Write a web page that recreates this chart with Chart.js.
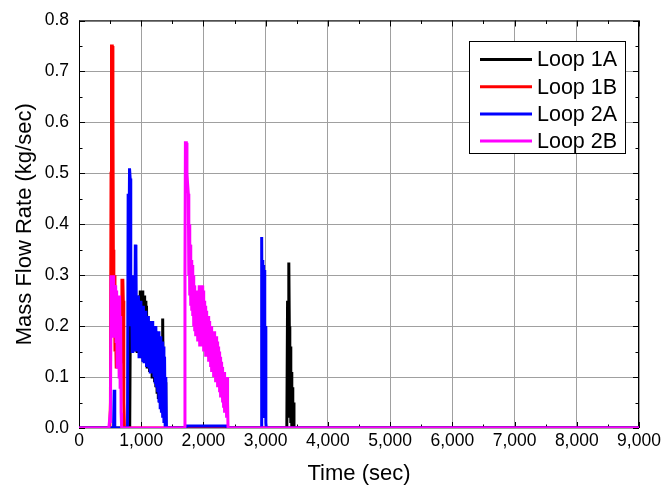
<!DOCTYPE html>
<html>
<head>
<meta charset="utf-8">
<script src="https://cdn.jsdelivr.net/npm/chart.js@4"></script>
<style>
  body { margin: 0; background: #fff; }
</style>
</head>
<body>
<canvas id="flowChart" width="665" height="491"></canvas>
<script>
// series: [time (sec), mass flow rate (kg/sec)]
const seriesNames = ["Loop 1A", "Loop 1B", "Loop 2A", "Loop 2B"];

const loop1A = [
    [0, 0], [815, 0], [825, 0.22], [835, 0.17], [845, 0.25], [855, 0.16], [865, 0.23], [875, 0.17],
    [885, 0.24], [895, 0.16], [905, 0.23], [915, 0.15], [925, 0.24], [935, 0.15], [945, 0.25],
    [955, 0.15], [965, 0.26], [975, 0.14], [985, 0.27], [995, 0.14], [1005, 0.26], [1015, 0.14],
    [1025, 0.27], [1035, 0.13], [1045, 0.26], [1055, 0.13], [1065, 0.25], [1075, 0.13], [1085, 0.24],
    [1095, 0.12], [1105, 0.22], [1115, 0.12], [1125, 0.21], [1135, 0.11], [1145, 0.21], [1155, 0.11],
    [1165, 0.2], [1175, 0.1], [1185, 0.2], [1195, 0.1], [1205, 0.19], [1215, 0.09], [1225, 0.19],
    [1235, 0.08], [1245, 0.18], [1255, 0.07], [1265, 0.18], [1275, 0.06], [1285, 0.17], [1295, 0.05],
    [1305, 0.16], [1315, 0.04], [1325, 0.16], [1335, 0.04], [1345, 0.215], [1355, 0.03], [1365, 0.14],
    [1375, 0.01], [1385, 0.09], [1395, 0], [3340, 0], [3352, 0.25], [3362, 0.2], [3372, 0.325],
    [3380, 0.2], [3388, 0.02], [3396, 0.16], [3404, 0.01], [3412, 0.11], [3420, 0], [3428, 0.08],
    [3436, 0], [3444, 0.05], [3455, 0], [9000, 0]
];

const loop1B = [
    [0, 0], [495, 0], [505, 0.05], [515, 0.5], [522, 0.75], [535, 0.75], [545, 0.63], [552, 0.35],
    [560, 0.29], [570, 0.3], [578, 0.15], [588, 0.19], [598, 0.12], [608, 0.17], [618, 0.14],
    [628, 0.17], [638, 0.13], [648, 0.16], [658, 0.13], [668, 0.15], [678, 0.13], [690, 0.29],
    [705, 0.29], [712, 0.25], [720, 0.05], [730, 0], [9000, 0]
];

const loop2A = [
    [0, 0], [555, 0], [565, 0.075], [575, 0], [780, 0], [790, 0.46], [800, 0.3], [812, 0.51],
    [822, 0.49], [832, 0.2], [845, 0.28], [855, 0.15], [865, 0.3], [875, 0.16], [885, 0.27],
    [895, 0.15], [905, 0.36], [915, 0.34], [925, 0.15], [935, 0.26], [945, 0.15], [955, 0.26],
    [965, 0.14], [975, 0.25], [985, 0.15], [995, 0.25], [1005, 0.14], [1015, 0.24], [1025, 0.13],
    [1035, 0.24], [1045, 0.13], [1055, 0.23], [1065, 0.13], [1075, 0.23], [1085, 0.12], [1095, 0.22],
    [1105, 0.12], [1115, 0.22], [1125, 0.12], [1135, 0.21], [1145, 0.11], [1155, 0.21], [1165, 0.11],
    [1175, 0.21], [1185, 0.11], [1195, 0.2], [1205, 0.1], [1215, 0.2], [1225, 0.09], [1235, 0.2],
    [1245, 0.08], [1255, 0.19], [1265, 0.07], [1275, 0.19], [1285, 0.05], [1295, 0.18], [1305, 0.04],
    [1315, 0.18], [1325, 0.03], [1335, 0.17], [1345, 0.02], [1355, 0.16], [1365, 0.01], [1375, 0.14],
    [1385, 0], [1395, 0.1], [1405, 0], [1715, 0], [1725, 0.004], [2370, 0.004], [2380, 0],
    [2925, 0], [2932, 0.3], [2940, 0.375], [2947, 0.05], [2954, 0.33], [2961, 0.04], [2968, 0.32],
    [2975, 0.03], [2982, 0.31], [2989, 0.02], [2996, 0.2], [3003, 0.01], [3010, 0], [9000, 0]
];

const loop2B = [
    [0, 0], [480, 0], [495, 0.02], [505, 0.01], [515, 0.3], [525, 0.3], [533, 0.18], [541, 0.29],
    [549, 0.19], [557, 0.3], [565, 0.18], [573, 0.28], [581, 0.2], [589, 0.28], [597, 0.17],
    [605, 0.27], [613, 0.12], [621, 0.26], [629, 0.18], [637, 0.25], [645, 0.1], [653, 0.26],
    [661, 0.08], [669, 0.22], [677, 0.03], [685, 0], [1695, 0], [1703, 0.3], [1710, 0.56],
    [1725, 0.56], [1735, 0.5], [1745, 0.48], [1757, 0.46], [1765, 0.3], [1772, 0.4], [1780, 0.26],
    [1788, 0.36], [1796, 0.24], [1804, 0.33], [1812, 0.23], [1820, 0.32], [1828, 0.22], [1836, 0.3],
    [1844, 0.2], [1852, 0.28], [1860, 0.19], [1868, 0.26], [1876, 0.18], [1884, 0.26], [1892, 0.18],
    [1900, 0.27], [1908, 0.17], [1916, 0.27], [1924, 0.17], [1932, 0.28], [1940, 0.16], [1948, 0.28],
    [1956, 0.16], [1964, 0.28], [1972, 0.16], [1980, 0.28], [1988, 0.16], [1996, 0.27], [2004, 0.15],
    [2012, 0.25], [2020, 0.15], [2028, 0.24], [2036, 0.14], [2044, 0.23], [2052, 0.14], [2060, 0.22],
    [2068, 0.14], [2076, 0.22], [2084, 0.13], [2092, 0.21], [2100, 0.13], [2108, 0.2], [2116, 0.12],
    [2124, 0.2], [2132, 0.11], [2140, 0.19], [2148, 0.11], [2156, 0.19], [2164, 0.1], [2172, 0.19],
    [2180, 0.1], [2188, 0.18], [2196, 0.09], [2204, 0.18], [2212, 0.09], [2220, 0.17], [2228, 0.08],
    [2236, 0.16], [2244, 0.08], [2252, 0.15], [2260, 0.07], [2268, 0.14], [2276, 0.06], [2284, 0.13],
    [2292, 0.06], [2300, 0.12], [2308, 0.05], [2316, 0.11], [2324, 0.04], [2332, 0.11], [2340, 0.03],
    [2348, 0.1], [2356, 0.03], [2364, 0.1], [2372, 0.02], [2380, 0.1], [2388, 0.05], [2395, 0],
    [9000, 0]
];

const seriesData = [loop1A, loop1B, loop2A, loop2B];
const seriesColors = ["#000000", "#ff0000", "#0000ff", "#ff00ff"];

const FONT = '"Liberation Sans", Arial, sans-serif';

// frame + inward tick marks, drawn under the data
const frameTicks = {
    id: "frameTicks",
    beforeDatasetsDraw(chart) {
        const { ctx, chartArea: a, scales: { x, y } } = chart;
        ctx.save();
        ctx.strokeStyle = "#000";
        ctx.lineWidth = 1;
        ctx.strokeRect(a.left + 0.5, a.top + 0.5, a.right - a.left - 1, a.bottom - a.top - 1);
        ctx.beginPath();
        for (let t = 0; t <= 9000; t += 500) {
            const px = Math.round(x.getPixelForValue(t)) + 0.5;
            const len = t % 1000 === 0 ? 6 : 3.5;
            ctx.moveTo(px, a.bottom); ctx.lineTo(px, a.bottom - len);
            ctx.moveTo(px, a.top); ctx.lineTo(px, a.top + len);
        }
        for (let k = 0; k <= 16; k++) {
            const py = Math.round(y.getPixelForValue(k * 0.05)) + 0.5;
            const len = k % 2 === 0 ? 6 : 3.5;
            ctx.moveTo(a.left, py); ctx.lineTo(a.left + len, py);
            ctx.moveTo(a.right, py); ctx.lineTo(a.right - len, py);
        }
        ctx.stroke();
        ctx.restore();
    }
};

// boxed legend in the upper right
const boxLegend = {
    id: "boxLegend",
    afterDraw(chart) {
        const ctx = chart.ctx;
        ctx.save();
        ctx.fillStyle = "#fff";
        ctx.fillRect(469.5, 41.5, 156, 112);
        ctx.strokeStyle = "#000";
        ctx.lineWidth = 1;
        ctx.strokeRect(469.5, 41.5, 156, 112);
        ctx.font = "21.5px " + FONT;
        ctx.textBaseline = "middle";
        seriesNames.forEach((name, i) => {
            const yy = 59.5 + i * 27.2;
            ctx.strokeStyle = seriesColors[i];
            ctx.lineWidth = 3;
            ctx.beginPath();
            ctx.moveTo(480, yy);
            ctx.lineTo(532, yy);
            ctx.stroke();
            ctx.fillStyle = "#000";
            ctx.fillText(name, 537, yy + 1);
        });
        ctx.restore();
    }
};

new Chart(document.getElementById("flowChart"), {
    type: "line",
    data: {
        datasets: seriesData.map((d, i) => ({
            label: seriesNames[i],
            data: d,
            borderColor: seriesColors[i],
            backgroundColor: seriesColors[i],
            borderWidth: 3,
            pointRadius: 0,
            tension: 0,
            order: 4 - i
        }))
    },
    options: {
        responsive: false,
        animation: false,
        layout: { padding: { top: 15, right: 26, left: 0, bottom: 0 } },
        plugins: { legend: { display: false }, tooltip: { enabled: false } },
        scales: {
            x: {
                type: "linear",
                min: 0,
                max: 9000,
                afterFit(scale) { scale.height = 63; },
                ticks: {
                    stepSize: 1000,
                    color: "#000",
                    padding: 3,
                    maxRotation: 0,
                    font: { family: FONT, size: 17.5 },
                    callback: v => v.toLocaleString("en-US")
                },
                grid: { color: "#a0a0a0", drawTicks: false },
                border: { display: false },
                title: {
                    display: true,
                    text: "Time (sec)",
                    color: "#000",
                    font: { family: FONT, size: 22 },
                    padding: { top: 0, bottom: 4 }
                }
            },
            y: {
                min: 0,
                max: 0.8,
                afterFit(scale) { scale.width = 79; },
                ticks: {
                    stepSize: 0.1,
                    color: "#000",
                    padding: 10,
                    font: { family: FONT, size: 17.5 },
                    callback: v => v.toFixed(1)
                },
                grid: { color: "#a0a0a0", drawTicks: false },
                border: { display: false },
                title: {
                    display: true,
                    text: "Mass Flow Rate (kg/sec)",
                    color: "#000",
                    font: { family: FONT, size: 22 },
                    padding: { top: 12, bottom: 0 }
                }
            }
        }
    },
    plugins: [frameTicks, boxLegend]
});
</script>
</body>
</html>
